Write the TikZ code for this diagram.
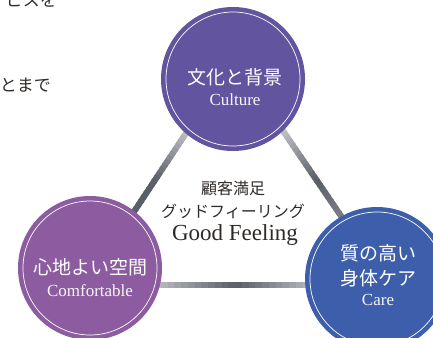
\documentclass[tikz,border=0pt]{standalone}
\usepackage{fontspec}
\setmainfont{Liberation Serif}
\newfontfamily\jpfont{Noto Sans CJK JP}
\usepackage{tikz}
\usetikzlibrary{positioning,calc,backgrounds}
\definecolor{culturecol}{HTML}{6354A0}
\definecolor{comfortcol}{HTML}{8C5BA0}
\definecolor{carecol}{HTML}{3D5FAB}
\definecolor{bardark}{HTML}{5A5E68}
\definecolor{barmid}{HTML}{A4A5AC}
\definecolor{inktext}{HTML}{2E2A27}

% bar from #1 to #2, colour #3 at the start, #4 in the middle, #5 at the end
\newcommand{\gradbar}[5]{%
  \foreach \i in {0,...,39}{
    \pgfmathsetmacro{\ta}{\i/40}
    \pgfmathsetmacro{\tb}{min(1,(\i+1.5)/40)}
    \pgfmathsetmacro{\tm}{(\i+0.5)/40}
    \pgfmathtruncatemacro{\pa}{\tm<0.5 ? 200*\tm : 200*(\tm-0.5)}
    \ifdim\tm pt<0.5pt \colorlet{segcol}{#4!\pa!#3}\else\colorlet{segcol}{#5!\pa!#4}\fi
    \draw[bar,segcol] ($(#1)!\ta!(#2)$) -- ($(#1)!\tb!(#2)$);
  }}

\begin{document}
\begin{tikzpicture}[x=1pt, y=-1pt,
theme/.style={circle,fill=#1,inner sep=0pt,minimum size=144pt,
  path picture={\draw[white,line width=0.7pt] (path picture bounding box.center) circle[radius=67pt];}},
jptitle/.style={inner sep=0pt,text=white,font=\jpfont\fontsize{19}{23}\selectfont},
entitle/.style={inner sep=0pt,text=white!94!culturecol,font=\fontsize{17}{20}\selectfont},
core/.style={inner sep=0pt,text=inktext,font=\jpfont\fontsize{16}{20}\selectfont},
bar/.style={line width=6pt,line cap=butt},
sidetext/.style={inner sep=0pt,text=inktext,font=\jpfont\fontsize{17}{20}\selectfont}
]
\useasboundingbox (0,0) rectangle (433,337);
\clip (0,0) rectangle (433,337);

%page text cut off at the left
\node[sidetext, anchor=east] (prevline) at (57,0) {ビスを};
\node[sidetext, anchor=east] (nextline) at (51,85) {とまで};

%create circles
\node[theme=culturecol] (culture) at (233,79) {};
\node[theme=comfortcol] (comfort) at (90,268) {};
\node[theme=carecol] (care) at (377,279) {};

%circle texts
\node[jptitle] (culturejp) at (235,77) {文化と背景};
\node[entitle] (cultureen) at (235,100) {Culture};
\node[jptitle] (comfortjp) at (90,267) {心地よい空間};
\node[entitle] (comforten) at (90,291) {Comfortable};
\node[jptitle] (carejp1) at (378,253) {質の高い};
\node[jptitle] (carejp2) at (378,278) {身体ケア};
\node[entitle] (careen) at (378,300) {Care};

%centre text
\node[core] (corejp1) at (233,188) {顧客満足};
\node[core] (corejp2) at (233,211) {グッドフィーリング};
\node[inner sep=0pt,text=inktext,font=\fontsize{23}{27}\selectfont] (coreen) at (235,235) {Good Feeling};

%bar ends
\coordinate (lbtop) at ($(culture)+(-25,21)$);
\coordinate (lbbot) at ($(comfort)+(12,-8)$);
\coordinate (rbtop) at ($(culture)+(29,21)$);
\coordinate (rbbot) at ($(care)+(-6,-19)$);
\coordinate (bbleft) at ($(comfort)+(10,17)$);
\coordinate (bbright) at ($(care)+(-7,6)$);

%draw bars behind the circles
\begin{scope}[on background layer]
\gradbar{lbtop}{lbbot}{white}{bardark}{bardark}
\gradbar{rbtop}{rbbot}{white}{bardark}{barmid}
\gradbar{bbleft}{bbright}{white}{bardark}{white}
\end{scope}
\end{tikzpicture}
\end{document}
